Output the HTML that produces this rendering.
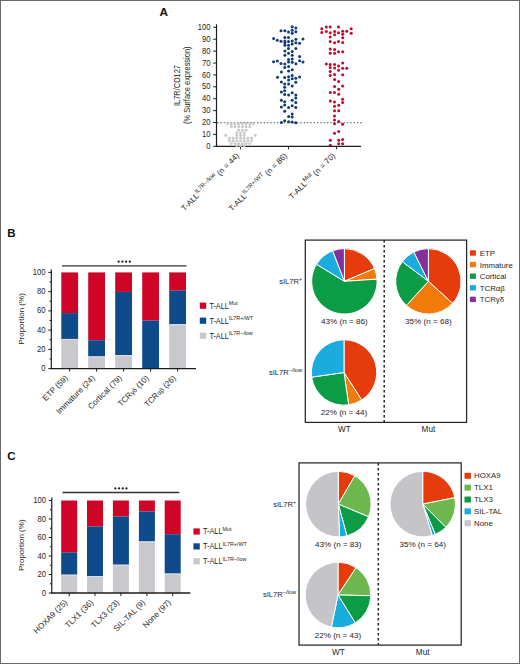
<!DOCTYPE html>
<html><head><meta charset="utf-8"><style>
html,body{margin:0;padding:0;background:#fff;width:520px;height:664px;overflow:hidden}
svg{display:block}
text{font-family:"Liberation Sans",sans-serif}
</style></head><body>
<svg width="520" height="664" viewBox="0 0 520 664" font-family='"Liberation Sans", sans-serif'>
<rect x="0" y="0" width="520" height="664" fill="#fff"/>
<text x="159.50" y="16.20" font-size="11.8" text-anchor="start" font-weight="bold" fill="#111" >A</text>
<line x1="216.5" y1="24.30" x2="216.5" y2="146.80" stroke="#1c1c1c" stroke-width="1.2"/>
<line x1="213.2" y1="146.30" x2="216.5" y2="146.30" stroke="#1c1c1c" stroke-width="1"/>
<text transform="translate(210.60,148.90) scale(0.92,1)" font-size="8.3" text-anchor="end" font-weight="normal" fill="#1e1e1e" >0</text>
<line x1="213.2" y1="134.40" x2="216.5" y2="134.40" stroke="#1c1c1c" stroke-width="1"/>
<text transform="translate(210.60,137.00) scale(0.92,1)" font-size="8.3" text-anchor="end" font-weight="normal" fill="#1e1e1e" >10</text>
<line x1="213.2" y1="122.50" x2="216.5" y2="122.50" stroke="#1c1c1c" stroke-width="1"/>
<text transform="translate(210.60,125.10) scale(0.92,1)" font-size="8.3" text-anchor="end" font-weight="normal" fill="#1e1e1e" >20</text>
<line x1="213.2" y1="110.60" x2="216.5" y2="110.60" stroke="#1c1c1c" stroke-width="1"/>
<text transform="translate(210.60,113.20) scale(0.92,1)" font-size="8.3" text-anchor="end" font-weight="normal" fill="#1e1e1e" >30</text>
<line x1="213.2" y1="98.70" x2="216.5" y2="98.70" stroke="#1c1c1c" stroke-width="1"/>
<text transform="translate(210.60,101.30) scale(0.92,1)" font-size="8.3" text-anchor="end" font-weight="normal" fill="#1e1e1e" >40</text>
<line x1="213.2" y1="86.80" x2="216.5" y2="86.80" stroke="#1c1c1c" stroke-width="1"/>
<text transform="translate(210.60,89.40) scale(0.92,1)" font-size="8.3" text-anchor="end" font-weight="normal" fill="#1e1e1e" >50</text>
<line x1="213.2" y1="74.90" x2="216.5" y2="74.90" stroke="#1c1c1c" stroke-width="1"/>
<text transform="translate(210.60,77.50) scale(0.92,1)" font-size="8.3" text-anchor="end" font-weight="normal" fill="#1e1e1e" >60</text>
<line x1="213.2" y1="63.00" x2="216.5" y2="63.00" stroke="#1c1c1c" stroke-width="1"/>
<text transform="translate(210.60,65.60) scale(0.92,1)" font-size="8.3" text-anchor="end" font-weight="normal" fill="#1e1e1e" >70</text>
<line x1="213.2" y1="51.10" x2="216.5" y2="51.10" stroke="#1c1c1c" stroke-width="1"/>
<text transform="translate(210.60,53.70) scale(0.92,1)" font-size="8.3" text-anchor="end" font-weight="normal" fill="#1e1e1e" >80</text>
<line x1="213.2" y1="39.20" x2="216.5" y2="39.20" stroke="#1c1c1c" stroke-width="1"/>
<text transform="translate(210.60,41.80) scale(0.92,1)" font-size="8.3" text-anchor="end" font-weight="normal" fill="#1e1e1e" >90</text>
<line x1="213.2" y1="27.30" x2="216.5" y2="27.30" stroke="#1c1c1c" stroke-width="1"/>
<text transform="translate(210.60,29.90) scale(0.92,1)" font-size="8.3" text-anchor="end" font-weight="normal" fill="#1e1e1e" >100</text>
<line x1="215.8" y1="146.30" x2="361" y2="146.30" stroke="#1c1c1c" stroke-width="1.2"/>
<line x1="240.5" y1="146.3" x2="240.5" y2="149.3" stroke="#1c1c1c" stroke-width="1"/>
<line x1="288.5" y1="146.3" x2="288.5" y2="149.3" stroke="#1c1c1c" stroke-width="1"/>
<line x1="336.6" y1="146.3" x2="336.6" y2="149.3" stroke="#1c1c1c" stroke-width="1"/>
<line x1="217" y1="122.8" x2="362" y2="122.8" stroke="#555" stroke-width="1.05" stroke-dasharray="1.5 1.83"/>
<text transform="translate(179.7,85.5) rotate(-90) scale(0.9,1)" font-size="8.3" text-anchor="middle" fill="#1e1e1e">IL7R/CD127</text>
<text transform="translate(189.6,85.2) rotate(-90) scale(0.9,1)" font-size="8.3" text-anchor="middle" fill="#1e1e1e">(% Surface expression)</text>
<text transform="translate(239.60,156.30) rotate(-45)" font-size="8" text-anchor="end" fill="#1e1e1e">T-ALL<tspan font-size="6" dy="-3.6">IL7R&#8211;/low</tspan><tspan dy="3.6"> (n = 44)</tspan></text>
<text transform="translate(287.60,156.30) rotate(-45)" font-size="8" text-anchor="end" fill="#1e1e1e">T-ALL<tspan font-size="6" dy="-3.6">IL7R+/WT</tspan><tspan dy="3.6"> (n = 86)</tspan></text>
<text transform="translate(335.70,156.30) rotate(-45)" font-size="8" text-anchor="end" fill="#1e1e1e">T-ALL<tspan font-size="6" dy="-3.6">Mut</tspan><tspan dy="3.6"> (n = 70)</tspan></text>
<circle cx="321.8" cy="28.7" r="1.5" fill="#c00a2e"/>
<circle cx="326.3" cy="26.9" r="1.5" fill="#c00a2e"/>
<circle cx="330.2" cy="27.1" r="1.5" fill="#c00a2e"/>
<circle cx="338.5" cy="27.1" r="1.5" fill="#c00a2e"/>
<circle cx="351.2" cy="28.8" r="1.5" fill="#c00a2e"/>
<circle cx="321.8" cy="32.6" r="1.5" fill="#c00a2e"/>
<circle cx="326.3" cy="31.5" r="1.5" fill="#c00a2e"/>
<circle cx="330.2" cy="32.8" r="1.5" fill="#c00a2e"/>
<circle cx="334.6" cy="31.5" r="1.5" fill="#c00a2e"/>
<circle cx="338.5" cy="32.8" r="1.5" fill="#c00a2e"/>
<circle cx="342.7" cy="31.3" r="1.5" fill="#c00a2e"/>
<circle cx="346.8" cy="31.3" r="1.5" fill="#c00a2e"/>
<circle cx="351.2" cy="33.3" r="1.5" fill="#c00a2e"/>
<circle cx="334.6" cy="34.7" r="1.5" fill="#c00a2e"/>
<circle cx="342.7" cy="34.2" r="1.5" fill="#c00a2e"/>
<circle cx="330.2" cy="36.9" r="1.5" fill="#c00a2e"/>
<circle cx="342.7" cy="37.7" r="1.5" fill="#c00a2e"/>
<circle cx="330.2" cy="41.6" r="1.5" fill="#c00a2e"/>
<circle cx="334.6" cy="42.8" r="1.5" fill="#c00a2e"/>
<circle cx="338.5" cy="41.4" r="1.5" fill="#c00a2e"/>
<circle cx="342.7" cy="42.5" r="1.5" fill="#c00a2e"/>
<circle cx="330.2" cy="48.9" r="1.5" fill="#c00a2e"/>
<circle cx="334.6" cy="49.4" r="1.5" fill="#c00a2e"/>
<circle cx="330.2" cy="53.3" r="1.5" fill="#c00a2e"/>
<circle cx="334.6" cy="53.3" r="1.5" fill="#c00a2e"/>
<circle cx="338.5" cy="51.8" r="1.5" fill="#c00a2e"/>
<circle cx="342.7" cy="51.8" r="1.5" fill="#c00a2e"/>
<circle cx="326.3" cy="64.1" r="1.5" fill="#c00a2e"/>
<circle cx="330.2" cy="64.6" r="1.5" fill="#c00a2e"/>
<circle cx="334.6" cy="64.6" r="1.5" fill="#c00a2e"/>
<circle cx="342.7" cy="62.9" r="1.5" fill="#c00a2e"/>
<circle cx="330.2" cy="67.5" r="1.5" fill="#c00a2e"/>
<circle cx="334.6" cy="68" r="1.5" fill="#c00a2e"/>
<circle cx="338.5" cy="66" r="1.5" fill="#c00a2e"/>
<circle cx="342.7" cy="68.2" r="1.5" fill="#c00a2e"/>
<circle cx="346.8" cy="68.2" r="1.5" fill="#c00a2e"/>
<circle cx="330.2" cy="71.4" r="1.5" fill="#c00a2e"/>
<circle cx="338.5" cy="70.2" r="1.5" fill="#c00a2e"/>
<circle cx="330.2" cy="75.6" r="1.5" fill="#c00a2e"/>
<circle cx="334.6" cy="74.5" r="1.5" fill="#c00a2e"/>
<circle cx="342.7" cy="74.8" r="1.5" fill="#c00a2e"/>
<circle cx="334.6" cy="79.6" r="1.5" fill="#c00a2e"/>
<circle cx="338.6" cy="81.4" r="1.5" fill="#c00a2e"/>
<circle cx="334.6" cy="86.6" r="1.5" fill="#c00a2e"/>
<circle cx="342.6" cy="86" r="1.5" fill="#c00a2e"/>
<circle cx="338.7" cy="89.3" r="1.5" fill="#c00a2e"/>
<circle cx="330.3" cy="92.4" r="1.5" fill="#c00a2e"/>
<circle cx="334.5" cy="92.6" r="1.5" fill="#c00a2e"/>
<circle cx="338.7" cy="94.2" r="1.5" fill="#c00a2e"/>
<circle cx="330.3" cy="100.9" r="1.5" fill="#c00a2e"/>
<circle cx="334.5" cy="102.1" r="1.5" fill="#c00a2e"/>
<circle cx="342.6" cy="99.3" r="1.5" fill="#c00a2e"/>
<circle cx="342.6" cy="102.4" r="1.5" fill="#c00a2e"/>
<circle cx="338.7" cy="105.3" r="1.5" fill="#c00a2e"/>
<circle cx="334.5" cy="106.3" r="1.5" fill="#c00a2e"/>
<circle cx="334.5" cy="110.8" r="1.5" fill="#c00a2e"/>
<circle cx="338.7" cy="110.8" r="1.5" fill="#c00a2e"/>
<circle cx="334.5" cy="116.1" r="1.5" fill="#c00a2e"/>
<circle cx="334.5" cy="120" r="1.5" fill="#c00a2e"/>
<circle cx="338.7" cy="121.4" r="1.5" fill="#c00a2e"/>
<circle cx="334.5" cy="123.7" r="1.5" fill="#c00a2e"/>
<circle cx="342.6" cy="124.3" r="1.5" fill="#c00a2e"/>
<circle cx="334.5" cy="133.2" r="1.5" fill="#c00a2e"/>
<circle cx="338.7" cy="131.6" r="1.5" fill="#c00a2e"/>
<circle cx="330.3" cy="140.3" r="1.5" fill="#c00a2e"/>
<circle cx="338.7" cy="140.3" r="1.5" fill="#c00a2e"/>
<circle cx="342.6" cy="139.5" r="1.5" fill="#c00a2e"/>
<circle cx="330.3" cy="145.2" r="1.5" fill="#c00a2e"/>
<circle cx="338.7" cy="143.8" r="1.5" fill="#c00a2e"/>
<circle cx="342.6" cy="143.8" r="1.5" fill="#c00a2e"/>
<circle cx="292.2" cy="26.8" r="1.5" fill="#0c3c78"/>
<circle cx="295.9" cy="27.9" r="1.5" fill="#0c3c78"/>
<circle cx="281" cy="30.7" r="1.5" fill="#0c3c78"/>
<circle cx="284.9" cy="30.8" r="1.5" fill="#0c3c78"/>
<circle cx="288.5" cy="32" r="1.5" fill="#0c3c78"/>
<circle cx="292.2" cy="30.2" r="1.5" fill="#0c3c78"/>
<circle cx="295.9" cy="31.7" r="1.5" fill="#0c3c78"/>
<circle cx="292.2" cy="33.2" r="1.5" fill="#0c3c78"/>
<circle cx="284.9" cy="37.4" r="1.5" fill="#0c3c78"/>
<circle cx="288.5" cy="37.6" r="1.5" fill="#0c3c78"/>
<circle cx="273.6" cy="38.6" r="1.5" fill="#0c3c78"/>
<circle cx="277.3" cy="40.3" r="1.5" fill="#0c3c78"/>
<circle cx="281" cy="41.2" r="1.5" fill="#0c3c78"/>
<circle cx="284.9" cy="40.9" r="1.5" fill="#0c3c78"/>
<circle cx="288.5" cy="41.5" r="1.5" fill="#0c3c78"/>
<circle cx="292.2" cy="40.9" r="1.5" fill="#0c3c78"/>
<circle cx="295.9" cy="39.3" r="1.5" fill="#0c3c78"/>
<circle cx="303" cy="39.1" r="1.5" fill="#0c3c78"/>
<circle cx="295.9" cy="42.8" r="1.5" fill="#0c3c78"/>
<circle cx="299.6" cy="43.2" r="1.5" fill="#0c3c78"/>
<circle cx="284.9" cy="42.8" r="1.5" fill="#0c3c78"/>
<circle cx="292.2" cy="44.1" r="1.5" fill="#0c3c78"/>
<circle cx="284.9" cy="45.2" r="1.5" fill="#0c3c78"/>
<circle cx="288.5" cy="45.2" r="1.5" fill="#0c3c78"/>
<circle cx="288.5" cy="48.4" r="1.5" fill="#0c3c78"/>
<circle cx="295.9" cy="48.4" r="1.5" fill="#0c3c78"/>
<circle cx="284.9" cy="51" r="1.5" fill="#0c3c78"/>
<circle cx="292.2" cy="51.4" r="1.5" fill="#0c3c78"/>
<circle cx="288.5" cy="53.3" r="1.5" fill="#0c3c78"/>
<circle cx="284.9" cy="55.3" r="1.5" fill="#0c3c78"/>
<circle cx="292.2" cy="55.3" r="1.5" fill="#0c3c78"/>
<circle cx="299.6" cy="56.4" r="1.5" fill="#0c3c78"/>
<circle cx="288.5" cy="59.4" r="1.5" fill="#0c3c78"/>
<circle cx="292.2" cy="59" r="1.5" fill="#0c3c78"/>
<circle cx="273.6" cy="61.8" r="1.5" fill="#0c3c78"/>
<circle cx="277.3" cy="61.1" r="1.5" fill="#0c3c78"/>
<circle cx="281" cy="63.4" r="1.5" fill="#0c3c78"/>
<circle cx="284.9" cy="64" r="1.5" fill="#0c3c78"/>
<circle cx="288.5" cy="62" r="1.5" fill="#0c3c78"/>
<circle cx="292.2" cy="62.2" r="1.5" fill="#0c3c78"/>
<circle cx="295.9" cy="63.7" r="1.5" fill="#0c3c78"/>
<circle cx="299.6" cy="60.8" r="1.5" fill="#0c3c78"/>
<circle cx="303" cy="62" r="1.5" fill="#0c3c78"/>
<circle cx="284.8" cy="67.5" r="1.5" fill="#0c3c78"/>
<circle cx="288.6" cy="66.6" r="1.5" fill="#0c3c78"/>
<circle cx="288.6" cy="71" r="1.5" fill="#0c3c78"/>
<circle cx="292.2" cy="69.8" r="1.5" fill="#0c3c78"/>
<circle cx="281.4" cy="72.1" r="1.5" fill="#0c3c78"/>
<circle cx="277.5" cy="77.3" r="1.5" fill="#0c3c78"/>
<circle cx="284.7" cy="77.6" r="1.5" fill="#0c3c78"/>
<circle cx="288.6" cy="76.8" r="1.5" fill="#0c3c78"/>
<circle cx="288.6" cy="80" r="1.5" fill="#0c3c78"/>
<circle cx="292.2" cy="75.5" r="1.5" fill="#0c3c78"/>
<circle cx="292.2" cy="78.7" r="1.5" fill="#0c3c78"/>
<circle cx="295.8" cy="78.2" r="1.5" fill="#0c3c78"/>
<circle cx="299.6" cy="77" r="1.5" fill="#0c3c78"/>
<circle cx="281.4" cy="82.1" r="1.5" fill="#0c3c78"/>
<circle cx="284.7" cy="84.1" r="1.5" fill="#0c3c78"/>
<circle cx="284.7" cy="87.2" r="1.5" fill="#0c3c78"/>
<circle cx="288.6" cy="84.1" r="1.5" fill="#0c3c78"/>
<circle cx="292.2" cy="86.1" r="1.5" fill="#0c3c78"/>
<circle cx="295.8" cy="82.3" r="1.5" fill="#0c3c78"/>
<circle cx="281.4" cy="92" r="1.5" fill="#0c3c78"/>
<circle cx="284.7" cy="90.8" r="1.5" fill="#0c3c78"/>
<circle cx="284.7" cy="94.5" r="1.5" fill="#0c3c78"/>
<circle cx="288.6" cy="95.1" r="1.5" fill="#0c3c78"/>
<circle cx="292.2" cy="92.7" r="1.5" fill="#0c3c78"/>
<circle cx="295.8" cy="95.1" r="1.5" fill="#0c3c78"/>
<circle cx="295.8" cy="98.1" r="1.5" fill="#0c3c78"/>
<circle cx="281.4" cy="100.3" r="1.5" fill="#0c3c78"/>
<circle cx="284.7" cy="101.7" r="1.5" fill="#0c3c78"/>
<circle cx="292.2" cy="100.2" r="1.5" fill="#0c3c78"/>
<circle cx="295.8" cy="102.6" r="1.5" fill="#0c3c78"/>
<circle cx="281.4" cy="107.1" r="1.5" fill="#0c3c78"/>
<circle cx="284.7" cy="105" r="1.5" fill="#0c3c78"/>
<circle cx="288.6" cy="107.4" r="1.5" fill="#0c3c78"/>
<circle cx="292.2" cy="105.8" r="1.5" fill="#0c3c78"/>
<circle cx="295.8" cy="107.4" r="1.5" fill="#0c3c78"/>
<circle cx="284.7" cy="111.2" r="1.5" fill="#0c3c78"/>
<circle cx="288.6" cy="116.4" r="1.5" fill="#0c3c78"/>
<circle cx="292.2" cy="113.9" r="1.5" fill="#0c3c78"/>
<circle cx="292.2" cy="117.1" r="1.5" fill="#0c3c78"/>
<circle cx="281.4" cy="122.5" r="1.5" fill="#0c3c78"/>
<circle cx="284.7" cy="120.7" r="1.5" fill="#0c3c78"/>
<circle cx="288.6" cy="121.8" r="1.5" fill="#0c3c78"/>
<circle cx="292.2" cy="122" r="1.5" fill="#0c3c78"/>
<circle cx="295.8" cy="122.7" r="1.5" fill="#0c3c78"/>
<circle cx="227.55" cy="123.8" r="1.45" fill="#c8c8cc"/>
<circle cx="231.25" cy="123.8" r="1.45" fill="#c8c8cc"/>
<circle cx="234.95" cy="123.8" r="1.45" fill="#c8c8cc"/>
<circle cx="238.65" cy="123.8" r="1.45" fill="#c8c8cc"/>
<circle cx="242.35" cy="123.8" r="1.45" fill="#c8c8cc"/>
<circle cx="246.05" cy="123.8" r="1.45" fill="#c8c8cc"/>
<circle cx="249.75" cy="123.8" r="1.45" fill="#c8c8cc"/>
<circle cx="253.45" cy="123.8" r="1.45" fill="#c8c8cc"/>
<circle cx="231.25" cy="126.7" r="1.45" fill="#c8c8cc"/>
<circle cx="234.95" cy="126.7" r="1.45" fill="#c8c8cc"/>
<circle cx="238.65" cy="126.7" r="1.45" fill="#c8c8cc"/>
<circle cx="242.35" cy="126.7" r="1.45" fill="#c8c8cc"/>
<circle cx="246.05" cy="126.7" r="1.45" fill="#c8c8cc"/>
<circle cx="249.75" cy="126.7" r="1.45" fill="#c8c8cc"/>
<circle cx="238.65" cy="130.3" r="1.45" fill="#c8c8cc"/>
<circle cx="242.35" cy="130.3" r="1.45" fill="#c8c8cc"/>
<circle cx="246.05" cy="130.3" r="1.45" fill="#c8c8cc"/>
<circle cx="236.80" cy="132.9" r="1.45" fill="#c8c8cc"/>
<circle cx="240.50" cy="132.9" r="1.45" fill="#c8c8cc"/>
<circle cx="244.20" cy="132.9" r="1.45" fill="#c8c8cc"/>
<circle cx="225.70" cy="135.5" r="1.45" fill="#c8c8cc"/>
<circle cx="236.80" cy="135.5" r="1.45" fill="#c8c8cc"/>
<circle cx="240.50" cy="135.5" r="1.45" fill="#c8c8cc"/>
<circle cx="244.20" cy="135.5" r="1.45" fill="#c8c8cc"/>
<circle cx="255.30" cy="135.5" r="1.45" fill="#c8c8cc"/>
<circle cx="229.40" cy="138.2" r="1.45" fill="#c8c8cc"/>
<circle cx="233.10" cy="138.2" r="1.45" fill="#c8c8cc"/>
<circle cx="236.80" cy="138.2" r="1.45" fill="#c8c8cc"/>
<circle cx="240.50" cy="138.2" r="1.45" fill="#c8c8cc"/>
<circle cx="244.20" cy="138.2" r="1.45" fill="#c8c8cc"/>
<circle cx="247.90" cy="138.2" r="1.45" fill="#c8c8cc"/>
<circle cx="251.60" cy="138.2" r="1.45" fill="#c8c8cc"/>
<circle cx="229.40" cy="140.9" r="1.45" fill="#c8c8cc"/>
<circle cx="233.10" cy="140.9" r="1.45" fill="#c8c8cc"/>
<circle cx="236.80" cy="140.9" r="1.45" fill="#c8c8cc"/>
<circle cx="240.50" cy="140.9" r="1.45" fill="#c8c8cc"/>
<circle cx="244.20" cy="140.9" r="1.45" fill="#c8c8cc"/>
<circle cx="247.90" cy="140.9" r="1.45" fill="#c8c8cc"/>
<circle cx="251.60" cy="140.9" r="1.45" fill="#c8c8cc"/>
<circle cx="231.25" cy="143.6" r="1.45" fill="#c8c8cc"/>
<circle cx="234.95" cy="143.6" r="1.45" fill="#c8c8cc"/>
<circle cx="238.65" cy="143.6" r="1.45" fill="#c8c8cc"/>
<circle cx="242.35" cy="143.6" r="1.45" fill="#c8c8cc"/>
<circle cx="246.05" cy="143.6" r="1.45" fill="#c8c8cc"/>
<circle cx="249.75" cy="143.6" r="1.45" fill="#c8c8cc"/>
<circle cx="236.80" cy="145.8" r="1.45" fill="#c8c8cc"/>
<circle cx="240.50" cy="145.8" r="1.45" fill="#c8c8cc"/>
<circle cx="244.20" cy="145.8" r="1.45" fill="#c8c8cc"/>
<text x="7.20" y="237.00" font-size="11.5" text-anchor="start" font-weight="bold" fill="#111" >B</text>
<line x1="51.3" y1="269.40" x2="51.3" y2="369.20" stroke="#1c1c1c" stroke-width="1.2"/>
<line x1="48.30" y1="368.60" x2="51.3" y2="368.60" stroke="#1c1c1c" stroke-width="1"/>
<text transform="translate(45.50,371.10) scale(0.92,1)" font-size="8.3" text-anchor="end" font-weight="normal" fill="#1e1e1e" >0</text>
<line x1="49.50" y1="358.98" x2="51.3" y2="358.98" stroke="#1c1c1c" stroke-width="1"/>
<line x1="48.30" y1="349.36" x2="51.3" y2="349.36" stroke="#1c1c1c" stroke-width="1"/>
<text transform="translate(45.50,351.86) scale(0.92,1)" font-size="8.3" text-anchor="end" font-weight="normal" fill="#1e1e1e" >20</text>
<line x1="49.50" y1="339.74" x2="51.3" y2="339.74" stroke="#1c1c1c" stroke-width="1"/>
<line x1="48.30" y1="330.12" x2="51.3" y2="330.12" stroke="#1c1c1c" stroke-width="1"/>
<text transform="translate(45.50,332.62) scale(0.92,1)" font-size="8.3" text-anchor="end" font-weight="normal" fill="#1e1e1e" >40</text>
<line x1="49.50" y1="320.50" x2="51.3" y2="320.50" stroke="#1c1c1c" stroke-width="1"/>
<line x1="48.30" y1="310.88" x2="51.3" y2="310.88" stroke="#1c1c1c" stroke-width="1"/>
<text transform="translate(45.50,313.38) scale(0.92,1)" font-size="8.3" text-anchor="end" font-weight="normal" fill="#1e1e1e" >60</text>
<line x1="49.50" y1="301.26" x2="51.3" y2="301.26" stroke="#1c1c1c" stroke-width="1"/>
<line x1="48.30" y1="291.64" x2="51.3" y2="291.64" stroke="#1c1c1c" stroke-width="1"/>
<text transform="translate(45.50,294.14) scale(0.92,1)" font-size="8.3" text-anchor="end" font-weight="normal" fill="#1e1e1e" >80</text>
<line x1="49.50" y1="282.02" x2="51.3" y2="282.02" stroke="#1c1c1c" stroke-width="1"/>
<line x1="48.30" y1="272.40" x2="51.3" y2="272.40" stroke="#1c1c1c" stroke-width="1"/>
<text transform="translate(45.50,274.90) scale(0.92,1)" font-size="8.3" text-anchor="end" font-weight="normal" fill="#1e1e1e" >100</text>
<text transform="translate(24,319.00) rotate(-90)" font-size="8" text-anchor="middle" fill="#1e1e1e">Proportion (%)</text>
<rect x="61.30" y="272.40" width="16.8" height="40.69" fill="#cf0528"/>
<rect x="61.30" y="313.09" width="16.8" height="25.88" fill="#0f4a8a"/>
<rect x="61.30" y="338.97" width="16.8" height="29.63" fill="#c9c8cd"/>
<rect x="61.30" y="338.97" width="16.8" height="0.9" fill="#dfe2ea"/>
<line x1="69.7" y1="368.6" x2="69.7" y2="371.6" stroke="#1c1c1c" stroke-width="1"/>
<text transform="translate(68.50,378.60) rotate(-45)" font-size="8.1" text-anchor="end" fill="#1e1e1e">ETP (59)</text>
<rect x="88.20" y="272.40" width="16.8" height="67.82" fill="#cf0528"/>
<rect x="88.20" y="340.22" width="16.8" height="16.35" fill="#0f4a8a"/>
<rect x="88.20" y="356.58" width="16.8" height="12.02" fill="#c9c8cd"/>
<rect x="88.20" y="356.58" width="16.8" height="0.9" fill="#dfe2ea"/>
<line x1="96.6" y1="368.6" x2="96.6" y2="371.6" stroke="#1c1c1c" stroke-width="1"/>
<text transform="translate(95.40,378.60) rotate(-45)" font-size="8.1" text-anchor="end" fill="#1e1e1e">Immature (24)</text>
<rect x="115.20" y="272.40" width="16.8" height="19.53" fill="#cf0528"/>
<rect x="115.20" y="291.93" width="16.8" height="63.30" fill="#0f4a8a"/>
<rect x="115.20" y="355.23" width="16.8" height="13.37" fill="#c9c8cd"/>
<rect x="115.20" y="355.23" width="16.8" height="0.9" fill="#dfe2ea"/>
<line x1="123.6" y1="368.6" x2="123.6" y2="371.6" stroke="#1c1c1c" stroke-width="1"/>
<text transform="translate(122.40,378.60) rotate(-45)" font-size="8.1" text-anchor="end" fill="#1e1e1e">Cortical (79)</text>
<rect x="142.20" y="272.40" width="16.8" height="48.10" fill="#cf0528"/>
<rect x="142.20" y="320.50" width="16.8" height="48.10" fill="#0f4a8a"/>
<rect x="142.20" y="368.60" width="16.8" height="0.00" fill="#c9c8cd"/>
<line x1="150.6" y1="368.6" x2="150.6" y2="371.6" stroke="#1c1c1c" stroke-width="1"/>
<text transform="translate(149.40,378.60) rotate(-45)" font-size="8.1" text-anchor="end" fill="#1e1e1e">TCR<tspan font-size="6.6">&#947;&#948;</tspan> (10)</text>
<rect x="169.20" y="272.40" width="16.8" height="18.28" fill="#cf0528"/>
<rect x="169.20" y="290.68" width="16.8" height="33.67" fill="#0f4a8a"/>
<rect x="169.20" y="324.35" width="16.8" height="44.25" fill="#c9c8cd"/>
<rect x="169.20" y="324.35" width="16.8" height="0.9" fill="#dfe2ea"/>
<line x1="177.6" y1="368.6" x2="177.6" y2="371.6" stroke="#1c1c1c" stroke-width="1"/>
<text transform="translate(176.40,378.60) rotate(-45)" font-size="8.1" text-anchor="end" fill="#1e1e1e">TCR<tspan font-size="6.6">&#945;&#946;</tspan> (26)</text>
<line x1="50.699999999999996" y1="368.6" x2="196" y2="368.6" stroke="#1c1c1c" stroke-width="1.3"/>
<line x1="62" y1="265.8" x2="186.5" y2="265.8" stroke="#333" stroke-width="1.35"/>
<circle cx="118.70" cy="261.70" r="1.15" fill="#222"/>
<circle cx="122.40" cy="261.70" r="1.15" fill="#222"/>
<circle cx="126.10" cy="261.70" r="1.15" fill="#222"/>
<circle cx="129.80" cy="261.70" r="1.15" fill="#222"/>
<rect x="199.8" y="302.6" width="6.4" height="6.2" fill="#cf0528"/>
<text transform="translate(209.4,308.6) scale(0.88,1)" font-size="8.3" fill="#1e1e1e">T-ALL<tspan font-size="6.1" dy="-3.4">Mut</tspan></text>
<rect x="199.8" y="317.6" width="6.4" height="6.2" fill="#0f4a8a"/>
<text transform="translate(209.4,323.6) scale(0.88,1)" font-size="8.3" fill="#1e1e1e">T-ALL<tspan font-size="6.1" dy="-3.4">IL7R+/WT</tspan></text>
<rect x="199.8" y="332.6" width="6.4" height="6.2" fill="#c9c8cd"/>
<text transform="translate(209.4,338.6) scale(0.88,1)" font-size="8.3" fill="#1e1e1e">T-ALL<tspan font-size="6.1" dy="-3.4">IL7R&#8211;/low</tspan></text>
<text x="7.20" y="460.00" font-size="11.5" text-anchor="start" font-weight="bold" fill="#111" >C</text>
<line x1="51.75" y1="497.50" x2="51.75" y2="593.60" stroke="#1c1c1c" stroke-width="1.2"/>
<line x1="48.75" y1="593.00" x2="51.75" y2="593.00" stroke="#1c1c1c" stroke-width="1"/>
<text transform="translate(45.95,595.50) scale(0.92,1)" font-size="8.3" text-anchor="end" font-weight="normal" fill="#1e1e1e" >0</text>
<line x1="49.95" y1="583.75" x2="51.75" y2="583.75" stroke="#1c1c1c" stroke-width="1"/>
<line x1="48.75" y1="574.50" x2="51.75" y2="574.50" stroke="#1c1c1c" stroke-width="1"/>
<text transform="translate(45.95,577.00) scale(0.92,1)" font-size="8.3" text-anchor="end" font-weight="normal" fill="#1e1e1e" >20</text>
<line x1="49.95" y1="565.25" x2="51.75" y2="565.25" stroke="#1c1c1c" stroke-width="1"/>
<line x1="48.75" y1="556.00" x2="51.75" y2="556.00" stroke="#1c1c1c" stroke-width="1"/>
<text transform="translate(45.95,558.50) scale(0.92,1)" font-size="8.3" text-anchor="end" font-weight="normal" fill="#1e1e1e" >40</text>
<line x1="49.95" y1="546.75" x2="51.75" y2="546.75" stroke="#1c1c1c" stroke-width="1"/>
<line x1="48.75" y1="537.50" x2="51.75" y2="537.50" stroke="#1c1c1c" stroke-width="1"/>
<text transform="translate(45.95,540.00) scale(0.92,1)" font-size="8.3" text-anchor="end" font-weight="normal" fill="#1e1e1e" >60</text>
<line x1="49.95" y1="528.25" x2="51.75" y2="528.25" stroke="#1c1c1c" stroke-width="1"/>
<line x1="48.75" y1="519.00" x2="51.75" y2="519.00" stroke="#1c1c1c" stroke-width="1"/>
<text transform="translate(45.95,521.50) scale(0.92,1)" font-size="8.3" text-anchor="end" font-weight="normal" fill="#1e1e1e" >80</text>
<line x1="49.95" y1="509.75" x2="51.75" y2="509.75" stroke="#1c1c1c" stroke-width="1"/>
<line x1="48.75" y1="500.50" x2="51.75" y2="500.50" stroke="#1c1c1c" stroke-width="1"/>
<text transform="translate(45.95,503.00) scale(0.92,1)" font-size="8.3" text-anchor="end" font-weight="normal" fill="#1e1e1e" >100</text>
<text transform="translate(24,545.25) rotate(-90)" font-size="8" text-anchor="middle" fill="#1e1e1e">Proportion (%)</text>
<rect x="61.20" y="500.50" width="16" height="51.80" fill="#cf0528"/>
<rect x="61.20" y="552.30" width="16" height="22.48" fill="#0f4a8a"/>
<rect x="61.20" y="574.78" width="16" height="18.22" fill="#c9c8cd"/>
<rect x="61.20" y="574.78" width="16" height="0.9" fill="#dfe2ea"/>
<line x1="69.2" y1="593" x2="69.2" y2="596" stroke="#1c1c1c" stroke-width="1"/>
<text transform="translate(68.00,603.00) rotate(-45)" font-size="8.1" text-anchor="end" fill="#1e1e1e">HOXA9 (25)</text>
<rect x="87.00" y="500.50" width="16" height="26.09" fill="#cf0528"/>
<rect x="87.00" y="526.59" width="16" height="49.58" fill="#0f4a8a"/>
<rect x="87.00" y="576.16" width="16" height="16.84" fill="#c9c8cd"/>
<rect x="87.00" y="576.16" width="16" height="0.9" fill="#dfe2ea"/>
<line x1="95.0" y1="593" x2="95.0" y2="596" stroke="#1c1c1c" stroke-width="1"/>
<text transform="translate(93.80,603.00) rotate(-45)" font-size="8.1" text-anchor="end" fill="#1e1e1e">TLX1 (36)</text>
<rect x="112.90" y="500.50" width="16" height="16.00" fill="#cf0528"/>
<rect x="112.90" y="516.50" width="16" height="48.28" fill="#0f4a8a"/>
<rect x="112.90" y="564.79" width="16" height="28.21" fill="#c9c8cd"/>
<rect x="112.90" y="564.79" width="16" height="0.9" fill="#dfe2ea"/>
<line x1="120.9" y1="593" x2="120.9" y2="596" stroke="#1c1c1c" stroke-width="1"/>
<text transform="translate(119.70,603.00) rotate(-45)" font-size="8.1" text-anchor="end" fill="#1e1e1e">TLX3 (23)</text>
<rect x="138.90" y="500.50" width="16" height="10.91" fill="#cf0528"/>
<rect x="138.90" y="511.41" width="16" height="30.15" fill="#0f4a8a"/>
<rect x="138.90" y="541.57" width="16" height="51.43" fill="#c9c8cd"/>
<rect x="138.90" y="541.57" width="16" height="0.9" fill="#dfe2ea"/>
<line x1="146.9" y1="593" x2="146.9" y2="596" stroke="#1c1c1c" stroke-width="1"/>
<text transform="translate(145.70,603.00) rotate(-45)" font-size="8.1" text-anchor="end" fill="#1e1e1e">SIL-TAL (9)</text>
<rect x="164.70" y="500.50" width="16" height="33.67" fill="#cf0528"/>
<rect x="164.70" y="534.17" width="16" height="39.50" fill="#0f4a8a"/>
<rect x="164.70" y="573.67" width="16" height="19.33" fill="#c9c8cd"/>
<rect x="164.70" y="573.67" width="16" height="0.9" fill="#dfe2ea"/>
<line x1="172.7" y1="593" x2="172.7" y2="596" stroke="#1c1c1c" stroke-width="1"/>
<text transform="translate(171.50,603.00) rotate(-45)" font-size="8.1" text-anchor="end" fill="#1e1e1e">None (97)</text>
<line x1="51.15" y1="593" x2="190.3" y2="593" stroke="#1c1c1c" stroke-width="1.3"/>
<line x1="62.5" y1="492.5" x2="179.3" y2="492.5" stroke="#333" stroke-width="1.35"/>
<circle cx="115.35" cy="488.40" r="1.15" fill="#222"/>
<circle cx="119.05" cy="488.40" r="1.15" fill="#222"/>
<circle cx="122.75" cy="488.40" r="1.15" fill="#222"/>
<circle cx="126.45" cy="488.40" r="1.15" fill="#222"/>
<rect x="193.4" y="528.4" width="6.4" height="6.2" fill="#cf0528"/>
<text transform="translate(203.0,534.4) scale(0.88,1)" font-size="8.3" fill="#1e1e1e">T-ALL<tspan font-size="6.1" dy="-3.4">Mut</tspan></text>
<rect x="193.4" y="543.3" width="6.4" height="6.2" fill="#0f4a8a"/>
<text transform="translate(203.0,549.3) scale(0.88,1)" font-size="8.3" fill="#1e1e1e">T-ALL<tspan font-size="6.1" dy="-3.4">IL7R+/WT</tspan></text>
<rect x="193.4" y="558.1999999999999" width="6.4" height="6.2" fill="#c9c8cd"/>
<text transform="translate(203.0,564.1999999999999) scale(0.88,1)" font-size="8.3" fill="#1e1e1e">T-ALL<tspan font-size="6.1" dy="-3.4">IL7R&#8211;/low</tspan></text>
<rect x="305.3" y="240.1" width="161.3" height="182.29999999999998" fill="none" stroke="#262626" stroke-width="1.25"/>
<line x1="384.2" y1="240.1" x2="384.2" y2="422.4" stroke="#262626" stroke-width="1.5" stroke-dasharray="2.5 2.5"/>
<path d="M344.40,281.30 L344.40,248.60 A32.7,32.7 0 0 1 374.50,268.51 Z" fill="#e63c0c" stroke="#fff" stroke-width="1" stroke-linejoin="round"/>
<path d="M344.40,281.30 L374.50,268.51 A32.7,32.7 0 0 1 377.03,279.15 Z" fill="#f07a0a" stroke="#fff" stroke-width="1" stroke-linejoin="round"/>
<path d="M344.40,281.30 L377.03,279.15 A32.7,32.7 0 1 1 316.49,264.27 Z" fill="#0c9c46" stroke="#fff" stroke-width="1" stroke-linejoin="round"/>
<path d="M344.40,281.30 L316.49,264.27 A32.7,32.7 0 0 1 332.72,250.76 Z" fill="#19acdc" stroke="#fff" stroke-width="1" stroke-linejoin="round"/>
<path d="M344.40,281.30 L332.72,250.76 A32.7,32.7 0 0 1 344.40,248.60 Z" fill="#84309a" stroke="#fff" stroke-width="1" stroke-linejoin="round"/>
<text x="344.40" y="324.40" font-size="8.1" text-anchor="middle" font-weight="normal" fill="#1e1e1e" >43% (n = 86)</text>
<path d="M428.40,281.30 L428.40,248.60 A32.7,32.7 0 0 1 452.57,303.33 Z" fill="#e63c0c" stroke="#fff" stroke-width="1" stroke-linejoin="round"/>
<path d="M428.40,281.30 L452.57,303.33 A32.7,32.7 0 0 1 406.37,305.47 Z" fill="#f07a0a" stroke="#fff" stroke-width="1" stroke-linejoin="round"/>
<path d="M428.40,281.30 L406.37,305.47 A32.7,32.7 0 0 1 402.30,261.59 Z" fill="#0c9c46" stroke="#fff" stroke-width="1" stroke-linejoin="round"/>
<path d="M428.40,281.30 L402.30,261.59 A32.7,32.7 0 0 1 413.82,252.03 Z" fill="#19acdc" stroke="#fff" stroke-width="1" stroke-linejoin="round"/>
<path d="M428.40,281.30 L413.82,252.03 A32.7,32.7 0 0 1 428.40,248.60 Z" fill="#84309a" stroke="#fff" stroke-width="1" stroke-linejoin="round"/>
<text x="428.40" y="324.40" font-size="8.1" text-anchor="middle" font-weight="normal" fill="#1e1e1e" >35% (n = 68)</text>
<path d="M344.00,372.50 L344.00,339.80 A32.7,32.7 0 0 1 361.68,400.01 Z" fill="#e63c0c" stroke="#fff" stroke-width="1" stroke-linejoin="round"/>
<path d="M344.00,372.50 L361.68,400.01 A32.7,32.7 0 0 1 348.65,404.87 Z" fill="#f07a0a" stroke="#fff" stroke-width="1" stroke-linejoin="round"/>
<path d="M344.00,372.50 L348.65,404.87 A32.7,32.7 0 0 1 311.63,377.15 Z" fill="#0c9c46" stroke="#fff" stroke-width="1" stroke-linejoin="round"/>
<path d="M344.00,372.50 L311.63,377.15 A32.7,32.7 0 0 1 344.00,339.80 Z" fill="#19acdc" stroke="#fff" stroke-width="1" stroke-linejoin="round"/>
<text x="344.00" y="415.20" font-size="8.1" text-anchor="middle" font-weight="normal" fill="#1e1e1e" >22% (n = 44)</text>
<text x="302.00" y="283.70" font-size="7.6" text-anchor="end" font-weight="normal" fill="#1e1e1e" >sIL7R<tspan font-size="5.2" dy="-3.2">+</tspan></text>
<text x="302.00" y="374.70" font-size="7.6" text-anchor="end" font-weight="normal" fill="#1e1e1e" >sIL7R<tspan font-size="5.7" dy="-3.2">&#8211;/low</tspan></text>
<text x="344.40" y="432.30" font-size="8.2" text-anchor="middle" font-weight="normal" fill="#1e1e1e" >WT</text>
<text x="428.40" y="432.30" font-size="8.2" text-anchor="middle" font-weight="normal" fill="#1e1e1e" >Mut</text>
<rect x="469.9" y="250.30" width="6.0" height="5.4" fill="#e63c0c"/>
<text x="479.80" y="255.90" font-size="7.8" text-anchor="start" font-weight="normal" fill="#1e1e1e" >ETP</text>
<rect x="469.9" y="261.90" width="6.0" height="5.4" fill="#f07a0a"/>
<text x="479.80" y="267.50" font-size="7.8" text-anchor="start" font-weight="normal" fill="#1e1e1e" >Immature</text>
<rect x="469.9" y="273.50" width="6.0" height="5.4" fill="#0c9c46"/>
<text x="479.80" y="279.10" font-size="7.8" text-anchor="start" font-weight="normal" fill="#1e1e1e" >Cortical</text>
<rect x="469.9" y="285.10" width="6.0" height="5.4" fill="#19acdc"/>
<text x="479.80" y="290.70" font-size="7.8" text-anchor="start" font-weight="normal" fill="#1e1e1e" >TCR&#945;&#946;</text>
<rect x="469.9" y="296.70" width="6.0" height="5.4" fill="#84309a"/>
<text x="479.80" y="302.30" font-size="7.8" text-anchor="start" font-weight="normal" fill="#1e1e1e" >TCR&#947;&#948;</text>
<rect x="299.0" y="462.9" width="162.2" height="182.20000000000005" fill="none" stroke="#262626" stroke-width="1.25"/>
<line x1="378.3" y1="462.9" x2="378.3" y2="645.1" stroke="#262626" stroke-width="1.5" stroke-dasharray="2.5 2.5"/>
<path d="M338.30,504.10 L338.30,471.30 A32.8,32.8 0 0 1 354.88,475.80 Z" fill="#e63c0c" stroke="#fff" stroke-width="1" stroke-linejoin="round"/>
<path d="M338.30,504.10 L354.88,475.80 A32.8,32.8 0 0 1 368.54,516.80 Z" fill="#6cb84e" stroke="#fff" stroke-width="1" stroke-linejoin="round"/>
<path d="M338.30,504.10 L368.54,516.80 A32.8,32.8 0 0 1 346.89,535.76 Z" fill="#0c9c46" stroke="#fff" stroke-width="1" stroke-linejoin="round"/>
<path d="M338.30,504.10 L346.89,535.76 A32.8,32.8 0 0 1 339.54,536.88 Z" fill="#19acdc" stroke="#fff" stroke-width="1" stroke-linejoin="round"/>
<path d="M338.30,504.10 L339.54,536.88 A32.8,32.8 0 1 1 338.30,471.30 Z" fill="#c5c4c9" stroke="#fff" stroke-width="1" stroke-linejoin="round"/>
<text x="338.30" y="547.10" font-size="8.1" text-anchor="middle" font-weight="normal" fill="#1e1e1e" >43% (n = 83)</text>
<path d="M422.70,504.10 L422.70,471.30 A32.8,32.8 0 0 1 454.87,497.70 Z" fill="#e63c0c" stroke="#fff" stroke-width="1" stroke-linejoin="round"/>
<path d="M422.70,504.10 L454.87,497.70 A32.8,32.8 0 0 1 445.89,527.29 Z" fill="#6cb84e" stroke="#fff" stroke-width="1" stroke-linejoin="round"/>
<path d="M422.70,504.10 L445.89,527.29 A32.8,32.8 0 0 1 435.25,534.40 Z" fill="#0c9c46" stroke="#fff" stroke-width="1" stroke-linejoin="round"/>
<path d="M422.70,504.10 L435.25,534.40 A32.8,32.8 0 0 1 432.22,535.49 Z" fill="#19acdc" stroke="#fff" stroke-width="1" stroke-linejoin="round"/>
<path d="M422.70,504.10 L432.22,535.49 A32.8,32.8 0 1 1 422.70,471.30 Z" fill="#c5c4c9" stroke="#fff" stroke-width="1" stroke-linejoin="round"/>
<text x="422.70" y="547.10" font-size="8.1" text-anchor="middle" font-weight="normal" fill="#1e1e1e" >35% (n = 64)</text>
<path d="M338.00,595.00 L338.00,562.20 A32.8,32.8 0 0 1 356.10,567.64 Z" fill="#e63c0c" stroke="#fff" stroke-width="1" stroke-linejoin="round"/>
<path d="M338.00,595.00 L356.10,567.64 A32.8,32.8 0 0 1 370.79,595.72 Z" fill="#6cb84e" stroke="#fff" stroke-width="1" stroke-linejoin="round"/>
<path d="M338.00,595.00 L370.79,595.72 A32.8,32.8 0 0 1 355.29,622.87 Z" fill="#0c9c46" stroke="#fff" stroke-width="1" stroke-linejoin="round"/>
<path d="M338.00,595.00 L355.29,622.87 A32.8,32.8 0 0 1 331.34,627.12 Z" fill="#19acdc" stroke="#fff" stroke-width="1" stroke-linejoin="round"/>
<path d="M338.00,595.00 L331.34,627.12 A32.8,32.8 0 0 1 338.00,562.20 Z" fill="#c5c4c9" stroke="#fff" stroke-width="1" stroke-linejoin="round"/>
<text x="338.00" y="638.10" font-size="8.1" text-anchor="middle" font-weight="normal" fill="#1e1e1e" >22% (n = 43)</text>
<text x="296.00" y="506.70" font-size="7.6" text-anchor="end" font-weight="normal" fill="#1e1e1e" >sIL7R<tspan font-size="5.2" dy="-3.2">+</tspan></text>
<text x="296.00" y="597.20" font-size="7.6" text-anchor="end" font-weight="normal" fill="#1e1e1e" >sIL7R<tspan font-size="5.7" dy="-3.2">&#8211;/low</tspan></text>
<text x="338.30" y="654.90" font-size="8.2" text-anchor="middle" font-weight="normal" fill="#1e1e1e" >WT</text>
<text x="422.70" y="654.90" font-size="8.2" text-anchor="middle" font-weight="normal" fill="#1e1e1e" >Mut</text>
<rect x="464.5" y="472.80" width="6.4" height="6.0" fill="#e63c0c"/>
<text x="474.10" y="478.40" font-size="7.8" text-anchor="start" font-weight="normal" fill="#1e1e1e" >HOXA9</text>
<rect x="464.5" y="484.65" width="6.4" height="6.0" fill="#6cb84e"/>
<text x="474.10" y="490.25" font-size="7.8" text-anchor="start" font-weight="normal" fill="#1e1e1e" >TLX1</text>
<rect x="464.5" y="496.50" width="6.4" height="6.0" fill="#0c9c46"/>
<text x="474.10" y="502.10" font-size="7.8" text-anchor="start" font-weight="normal" fill="#1e1e1e" >TLX3</text>
<rect x="464.5" y="508.35" width="6.4" height="6.0" fill="#19acdc"/>
<text x="474.10" y="513.95" font-size="7.8" text-anchor="start" font-weight="normal" fill="#1e1e1e" >SIL-TAL</text>
<rect x="464.5" y="520.20" width="6.4" height="6.0" fill="#c5c4c9"/>
<text x="474.10" y="525.80" font-size="7.8" text-anchor="start" font-weight="normal" fill="#1e1e1e" >None</text>
<rect x="0.5" y="0.5" width="519" height="663" fill="none" stroke="#686868" stroke-width="1"/>
</svg>
</body></html>
